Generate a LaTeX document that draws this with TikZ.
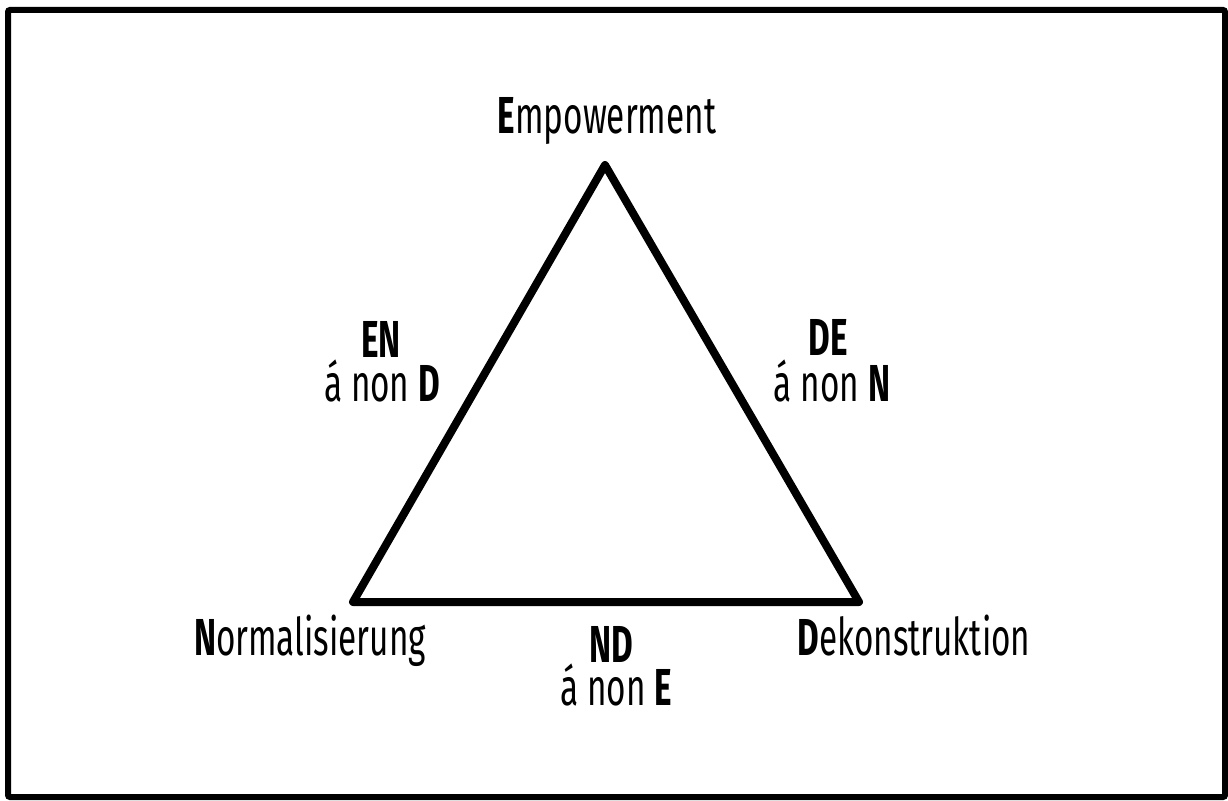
\documentclass[tikz,border=0pt]{standalone}
\usepackage{fontspec}
\setmainfont{Fira Sans}[FakeStretch=0.64]
\begin{document}
\begin{tikzpicture}[x=1pt,y=-1pt,
  lab/.style={anchor=base,inner sep=0pt,font=\fontsize{52}{60}\selectfont},
  low/.style={lab,text height=0.69em},
  tri/.style={line width=8pt,line join=round,line cap=round}]
\useasboundingbox (0,0) rectangle (1228,800);
\draw[line width=6pt,rounded corners=2pt] (8,10) rectangle (1225,797);
\coordinate (cE) at (605,165);
\coordinate (cN) at (353,602);
\coordinate (cD) at (859,602);
\draw[tri] (cE) -- (cD) -- (cN) -- cycle;
\node[lab] (tE) at (607,133) {\textbf{E}mpowerment};
\node[lab] (tN) at (310,655) {\textbf{N}ormalisierung};
\node[lab] (tD) at (914,655) {\textbf{D}ekonstruktion};
\node[lab] (en1) at (381,357) {\textbf{EN}};
\node[low] (en2) at (382,401) {á non \textbf{D}};
\node[lab] (de1) at (828,355) {\textbf{DE}};
\node[low] (de2) at (832,401) {á non \textbf{N}};
\node[lab] (nd1) at (611,662) {\textbf{ND}};
\node[low] (nd2) at (616,705) {á non \textbf{E}};
\end{tikzpicture}
\end{document}
